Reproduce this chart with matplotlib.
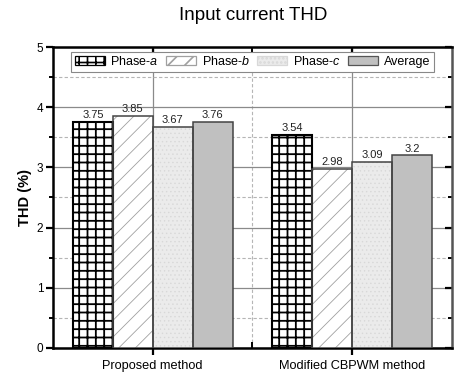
import matplotlib
matplotlib.use("Agg")
import matplotlib.pyplot as plt
import matplotlib.ticker as mticker
from matplotlib.lines import TICKLEFT, TICKDOWN
from matplotlib.patches import Patch
import numpy as np

plt.rcParams["font.family"] = ["Liberation Sans", "DejaVu Sans"]
plt.rcParams["mathtext.fontset"] = "custom"
plt.rcParams["mathtext.it"] = "Liberation Sans:italic"
plt.rcParams["mathtext.rm"] = "Liberation Sans"
plt.rcParams["hatch.linewidth"] = 1.2

# ── Data ──────────────────────────────────────────────────────────────────────
methods = ["Proposed method", "Modified CBPWM method"]
series = ["Phase-$a$", "Phase-$b$", "Phase-$c$", "Average"]
phase_a = [3.75, 3.54]
phase_b = [3.85, 2.98]
phase_c = [3.67, 3.09]
average = [3.76, 3.20]
value_labels = [["3.75", "3.54"], ["3.85", "2.98"], ["3.67", "3.09"], ["3.76", "3.2"]]

# (face, hatch, hatch colour, outline colour, hatch width)
styles = [
    ("white", "++", "black", "black", 1.3),
    ("white", "//", "#a0a0a0", "#444444", 0.6),
    ("#ebebeb", "....", "#d8d8d8", "#444444", 0.5),
    ("#c0c0c0", "", "#c0c0c0", "#444444", 0.5),
]


def set_hatch_width(patch, lw):
    # per-patch hatch width is only available in newer matplotlib
    try:
        patch.set_hatch_linewidth(lw)
    except AttributeError:
        pass


fig = plt.figure(figsize=(4.62, 3.76), dpi=100)
ax = fig.add_axes([0.1147, 0.0745, 0.8636, 0.8005])

x = np.arange(len(methods))
w = 0.2
values = [phase_a, phase_b, phase_c, average]

for i, (vals, (face, hatch, hcol, ecol, hlw)) in enumerate(zip(values, styles)):
    pos = x + (i - 1.5) * w
    # fill + hatch layer, then outline on top
    bars = ax.bar(pos, vals, w, color=face, hatch=hatch, edgecolor=hcol,
                  linewidth=0, zorder=3)
    for b in bars:
        set_hatch_width(b, hlw)
    ax.bar(pos, vals, w, fill=False, edgecolor=ecol,
           linewidth=1.5 if i == 0 else 1.1, zorder=4)
    for p, v, lab in zip(pos, vals, value_labels[i]):
        ax.text(p, v + 0.03, lab, ha="center", va="bottom",
                fontsize=8, color="#222222", zorder=5)

ax.set_xlim(-0.5, 1.5)
ax.set_ylim(0, 5)
ax.set_xticks(x)
ax.set_xticklabels(methods, fontsize=9.2)
ax.xaxis.set_minor_locator(mticker.FixedLocator([0.5]))
ax.yaxis.set_major_locator(mticker.MultipleLocator(1))
ax.yaxis.set_minor_locator(mticker.MultipleLocator(0.5))

# grid: solid majors, dashed minors
ax.grid(which="major", axis="both", color="#8a8a8a", linewidth=0.9, zorder=0)
ax.grid(which="minor", axis="both", color="#b5b5b5", linewidth=0.8,
        linestyle=(0, (3, 2)), zorder=0)
ax.set_axisbelow(True)

ax.tick_params(axis="y", which="major", direction="out", length=5, width=1.6,
               labelsize=8.5, pad=2, right=True)
ax.tick_params(axis="y", which="minor", direction="out", length=3, width=1.4,
               right=True)
ax.tick_params(axis="x", which="major", direction="out", length=5, width=1.6,
               pad=4, top=True)
ax.tick_params(axis="x", which="minor", direction="in", length=4, width=1.4,
               top=True)
# right and top ticks point inwards
for t in ax.yaxis.get_major_ticks() + ax.yaxis.get_minor_ticks():
    t.tick2line.set_marker(TICKLEFT)
for t in ax.xaxis.get_major_ticks() + ax.xaxis.get_minor_ticks():
    t.tick2line.set_marker(TICKDOWN)

for side in ("left", "bottom", "top"):
    ax.spines[side].set_linewidth(1.8)
    ax.spines[side].set_color("black")
ax.spines["right"].set_linewidth(1.8)
ax.spines["right"].set_color("#555555")

ax.set_ylabel("THD (%)", fontsize=10.5, fontweight="bold", labelpad=3)

handles = []
for i, (f, h, hc, ec, hlw) in enumerate(styles):
    hp = Patch(facecolor=f, hatch=h, edgecolor="black" if i == 0 else hc,
               linewidth=0.9)
    set_hatch_width(hp, hlw)
    handles.append(hp)
handles[3] = Patch(facecolor="#c0c0c0", edgecolor="#555555", linewidth=0.9)
leg = ax.legend(handles, series, loc="upper center", bbox_to_anchor=(0.5, 0.985),
                ncol=4, fontsize=9, handlelength=2.4, handleheight=0.75,
                handletextpad=0.45, columnspacing=0.6, borderpad=0.3,
                borderaxespad=0.0, fancybox=False, framealpha=1)
leg.get_frame().set_edgecolor("#888888")
leg.get_frame().set_linewidth(0.8)
leg.set_zorder(6)

fig.text(0.548, 1 - 16 / 376, "Input current THD", ha="center", va="center",
         fontsize=13.5)

fig.savefig("out.png", dpi=100)
